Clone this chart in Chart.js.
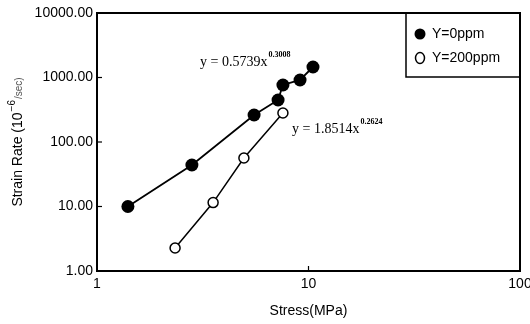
<!DOCTYPE html>
<html><head><meta charset="utf-8">
<script src="https://cdn.jsdelivr.net/npm/chart.js@4/dist/chart.umd.min.js"></script>
<style>html,body{margin:0;padding:0;background:#fff}#wrap{width:530px;height:324px}</style>
</head><body><div id="wrap"><canvas id="c" width="530" height="324"></canvas></div>
<script>
// Data
const stress0ppm = [1.40, 2.81, 5.53, 7.18, 7.57, 9.12, 10.5];
const rate0ppm   = [10.0, 44, 262, 448, 765, 915, 1455];
const stress200ppm = [2.34, 3.54, 4.95, 7.57];
const rate200ppm   = [2.27, 11.5, 56.5, 282];
const xTickValues = [1, 10, 100];
const yTickValues = [1, 10, 100, 1000, 10000];
const seriesLabels = ['Y=0ppm', 'Y=200ppm'];
const equations = [
  {base: 'y = 0.5739x', exp: '0.3008'},
  {base: 'y = 1.8514x', exp: '0.2624'}
];

const SANS = '"Liberation Sans", Arial, sans-serif';
const SERIF = '"Liberation Serif", "Times New Roman", serif';

const pts = (xs, ys) => xs.map((x, i) => ({x, y: ys[i]}));

const decor = {
  id: 'decor',
  afterDraw(chart) {
    const ctx = chart.ctx, a = chart.chartArea;
    const xs = chart.scales.x, ys = chart.scales.y;
    ctx.save();
    ctx.strokeStyle = '#000';
    ctx.lineWidth = 2;
    ctx.strokeRect(a.left, a.top, a.right - a.left, a.bottom - a.top);
    ctx.lineWidth = 1.2;
    yTickValues.forEach(v => {
      const y = ys.getPixelForValue(v);
      ctx.beginPath(); ctx.moveTo(a.left, y); ctx.lineTo(a.left + 5, y); ctx.stroke();
    });
    xTickValues.forEach(v => {
      const x = xs.getPixelForValue(v);
      ctx.beginPath(); ctx.moveTo(x, a.bottom); ctx.lineTo(x, a.bottom - 5); ctx.stroke();
    });
    ctx.fillStyle = '#000';
    ctx.translate(18, (a.top + a.bottom) / 2);
    ctx.rotate(-Math.PI / 2);
    const p1 = 'Strain Rate (10', p2 = '\u22126', p3 = '/sec)';
    ctx.font = '14px ' + SANS; const w1 = ctx.measureText(p1).width;
    ctx.font = '10px ' + SANS; const w2 = ctx.measureText(p2).width;
    ctx.font = '10px ' + SANS; const w3 = ctx.measureText(p3).width;
    let x0 = -(w1 + w2 + w3 + 2) / 2;
    ctx.textBaseline = 'middle';
    ctx.font = '14px ' + SANS; ctx.fillText(p1, x0, 0); x0 += w1 + 1;
    ctx.font = '10px ' + SANS; ctx.fillText(p2, x0, -6); x0 += w2 + 1;
    ctx.fillStyle = '#555'; ctx.fillText(p3, x0, 1);
    ctx.restore();

    ctx.save();
    ctx.fillStyle = '#000';
    ctx.textBaseline = 'alphabetic';
    const eqPos = [[200, 66], [292, 133]];
    equations.forEach((e, i) => {
      const [ex, ey] = eqPos[i];
      ctx.font = '14px ' + SERIF;
      ctx.fillText(e.base, ex, ey);
      const w = ctx.measureText(e.base).width;
      ctx.font = 'bold 8px ' + SERIF;
      ctx.fillText(e.exp, ex + w + 1, ey - 9);
    });
    ctx.strokeStyle = '#000'; ctx.lineWidth = 1.5;
    ctx.beginPath(); ctx.moveTo(406, a.top); ctx.lineTo(406, 77); ctx.lineTo(a.right, 77); ctx.stroke();
    ctx.font = '14px ' + SANS; ctx.textBaseline = 'middle';
    ctx.beginPath(); ctx.arc(420, 34, 5.5, 0, Math.PI * 2); ctx.fill();
    ctx.fillText(seriesLabels[0], 432, 34);
    ctx.beginPath(); ctx.ellipse(420, 58, 4.5, 5.5, 0, 0, Math.PI * 2); ctx.stroke();
    ctx.fillText(seriesLabels[1], 432, 58);
    ctx.restore();
  }
};

new Chart(document.getElementById('c'), {
  type: 'scatter',
  data: {
    datasets: [
      {label: seriesLabels[0], data: pts(stress0ppm, rate0ppm), showLine: true,
       borderColor: '#000', borderWidth: 1.8, backgroundColor: '#000',
       pointRadius: 6.5, pointBackgroundColor: '#000', pointBorderColor: '#000', pointBorderWidth: 0},
      {label: seriesLabels[1], data: pts(stress200ppm, rate200ppm), showLine: true,
       borderColor: '#000', borderWidth: 1.5, backgroundColor: '#fff',
       pointRadius: 5, pointBackgroundColor: '#fff', pointBorderColor: '#000', pointBorderWidth: 1.5}
    ]
  },
  options: {
    responsive: false, animation: false, devicePixelRatio: 1,
    layout: {padding: {left: 0, right: 10, top: 13, bottom: 0}},
    plugins: {legend: {display: false}, tooltip: {enabled: false}},
    scales: {
      x: {
        type: 'logarithmic', min: 1, max: 100,
        afterBuildTicks: s => { s.ticks = xTickValues.map(v => ({value: v})); },
        afterFit: s => { s.height = 53; s.paddingLeft = 0; s.paddingRight = 0; },
        grid: {display: false, drawTicks: false, tickLength: 0}, border: {display: false},
        ticks: {color: '#000', font: {family: SANS, size: 14}, padding: 5, maxRotation: 0,
                callback: v => String(v)},
        title: {display: true, text: 'Stress(MPa)', color: '#000', font: {family: SANS, size: 14},
                padding: {top: 0, bottom: 4}}
      },
      y: {
        type: 'logarithmic', min: 1, max: 10000,
        afterBuildTicks: s => { s.ticks = yTickValues.map(v => ({value: v})); },
        afterFit: s => { s.width = 97; s.paddingTop = 0; s.paddingBottom = 0; },
        grid: {display: false, drawTicks: false, tickLength: 0}, border: {display: false},
        ticks: {color: '#000', font: {family: SANS, size: 14}, padding: 4,
                callback: v => Number(v).toFixed(2)}
      }
    }
  },
  plugins: [decor]
});
</script>
</body></html>
